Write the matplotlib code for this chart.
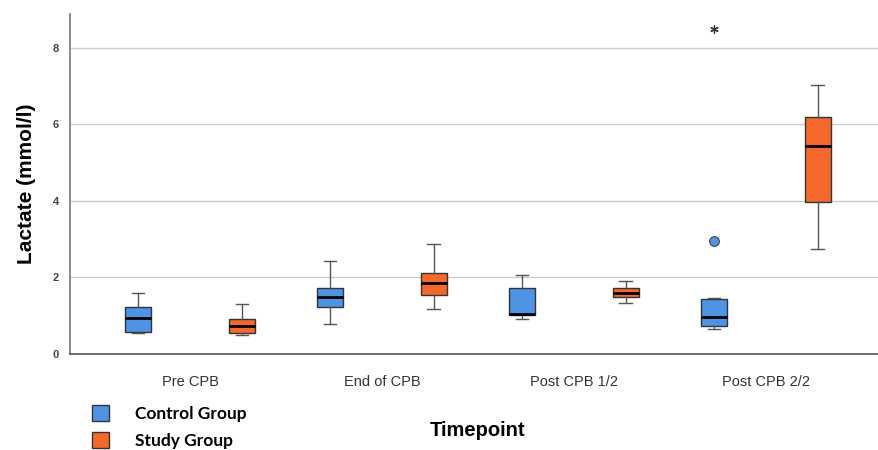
import matplotlib.pyplot as plt
from matplotlib.patches import Patch

# lactate (mmol/l) box statistics
timepoints = ["Pre CPB", "End of CPB", "Post CPB 1/2", "Post CPB 2/2"]

control_whislo = [0.54, 0.78, 0.92, 0.65]
control_q1 = [0.57, 1.22, 1.03, 0.74]
control_med = [0.95, 1.50, 1.05, 0.96]
control_q3 = [1.24, 1.73, 1.73, 1.43]
control_whishi = [1.59, 2.44, 2.06, 1.46]

study_whislo = [0.50, 1.18, 1.32, 2.74]
study_q1 = [0.56, 1.55, 1.48, 3.97]
study_med = [0.73, 1.85, 1.60, 5.44]
study_q3 = [0.91, 2.11, 1.72, 6.20]
study_whishi = [1.31, 2.86, 1.91, 7.03]

# outliers (control group, Post CPB 2/2)
control_outlier = [2.94]
control_extreme = [8.49]
outlier_idx = 3

blue = "#4f94e4"
orange = "#f4692b"

plt.rcParams['font.family'] = ['Liberation Sans', 'DejaVu Sans']

fig = plt.figure(figsize=(8.79, 4.5), dpi=100)
ax = fig.add_axes([70 / 879, 96 / 450, 809 / 879, 340 / 450])


def make_stats(lo, q1, med, q3, hi):
    out = []
    for i in range(len(lo)):
        out.append(dict(whislo=lo[i], q1=q1[i], med=med[i], q3=q3[i],
                        whishi=hi[i], fliers=[]))
    return out


offset = 0.27
width = 0.135
cw = 0.065

for stats, color, sign in [
    (make_stats(control_whislo, control_q1, control_med, control_q3, control_whishi), blue, -1),
    (make_stats(study_whislo, study_q1, study_med, study_q3, study_whishi), orange, 1),
]:
    pos = [i + sign * offset for i in range(len(timepoints))]
    ax.bxp(stats, positions=pos, widths=width, capwidths=cw, patch_artist=True,
           showfliers=False, manage_ticks=False,
           boxprops=dict(facecolor=color, edgecolor="#333333", linewidth=1.0),
           medianprops=dict(color="black", linewidth=2.0),
           whiskerprops=dict(color="#555555", linewidth=1.0),
           capprops=dict(color="#555555", linewidth=1.0))

ax.plot([outlier_idx - offset] * len(control_outlier), control_outlier, 'o',
        markersize=7, markerfacecolor=blue, markeredgecolor="#444444",
        markeredgewidth=0.8, zorder=5)
ax.plot([outlier_idx - offset] * len(control_extreme), control_extreme,
        marker=(6, 2, 0), linestyle='none', markersize=6, color="#333333",
        markeredgewidth=0.9, zorder=5)

ax.set_xlim(-0.625, 3.59)
ax.set_ylim(0, 8.88)
ax.set_yticks([0, 2, 4, 6, 8])
ax.set_xticks(range(len(timepoints)))
ax.set_xticklabels(timepoints, fontsize=10.5, color="#333333")
ax.tick_params(axis='y', length=0, pad=8, labelsize=8, labelcolor="#444444")
ax.tick_params(axis='x', length=0, pad=15)
for lbl in ax.get_yticklabels():
    lbl.set_fontweight('bold')

ax.yaxis.grid(True, color="#cccccc", linewidth=1.0)
ax.set_axisbelow(True)
ax.spines['top'].set_visible(False)
ax.spines['right'].set_visible(False)
ax.spines['left'].set_color("#777777")
ax.spines['bottom'].set_color("#555555")
ax.spines['left'].set_linewidth(1.2)
ax.spines['bottom'].set_linewidth(1.2)

ax.set_ylabel("Lactate (mmol/l)", fontsize=15, fontweight='bold', labelpad=12)
fig.text(478 / 879, 1 - 430 / 450, "Timepoint", fontsize=14.5, fontweight='bold',
         ha='center', va='center')

handles = [Patch(facecolor=blue, edgecolor="#333333"),
           Patch(facecolor=orange, edgecolor="#333333")]
fig.legend(handles, ["Control Group", "Study Group"], loc='upper left',
           bbox_to_anchor=(92 / 879, 1 - 405 / 450), frameon=False,
           prop=dict(family='Lato', weight='bold', size=12.5),
           handlelength=1.0, handleheight=1.0, handletextpad=1.5,
           labelspacing=0.6, borderpad=0, borderaxespad=0)

fig.savefig("out.png", dpi=100)
